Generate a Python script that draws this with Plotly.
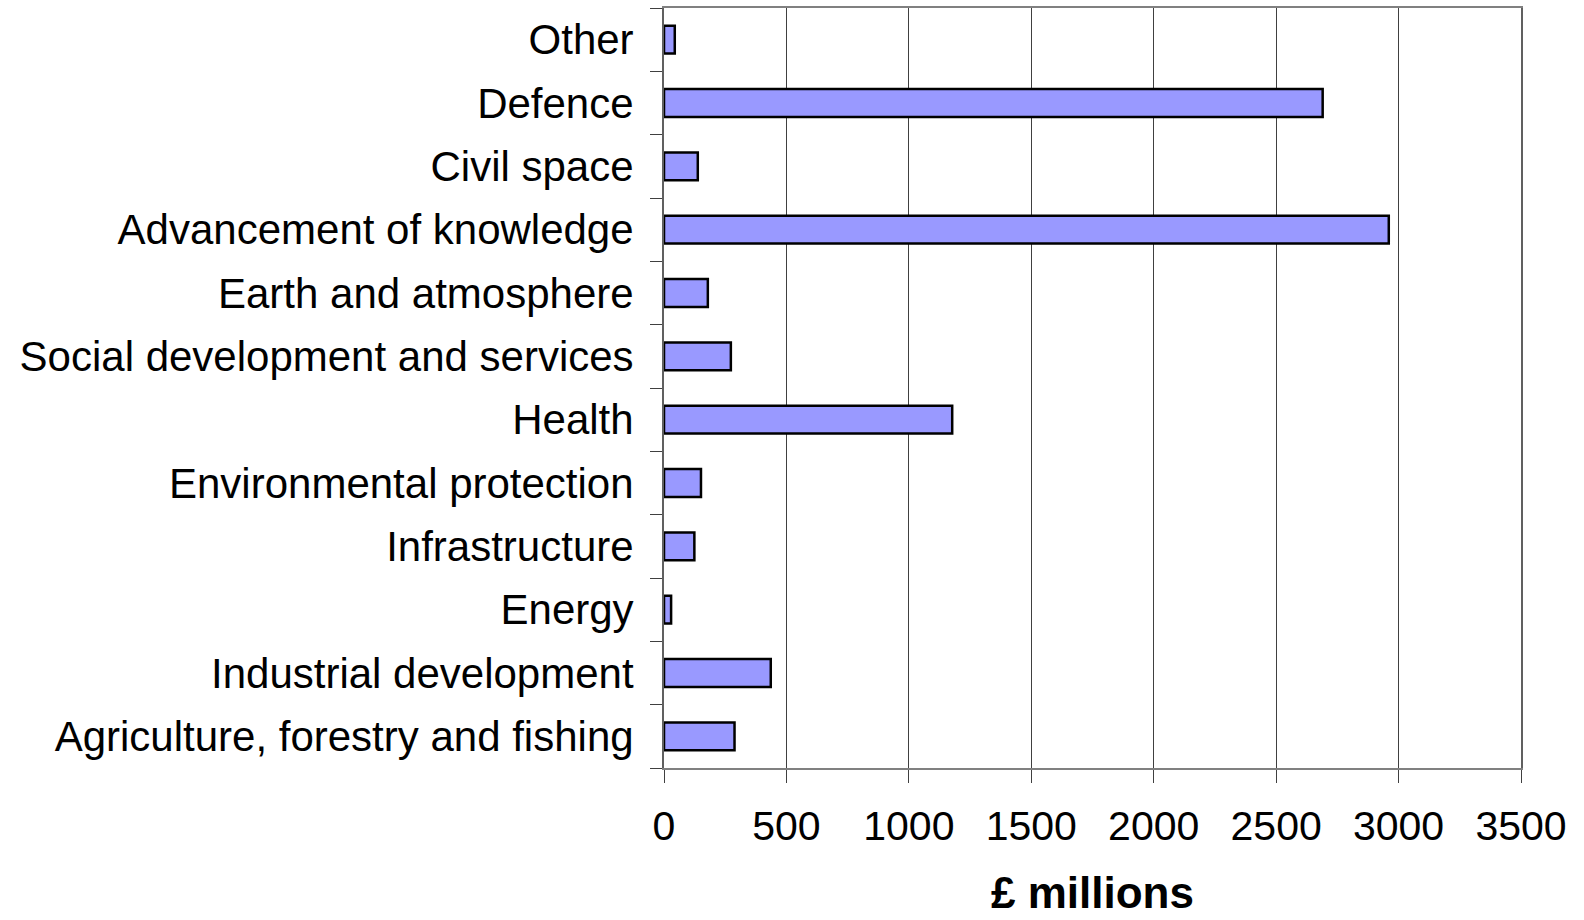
import plotly.graph_objects as go

categories = [
    "Agriculture, forestry and fishing",
    "Industrial development",
    "Energy",
    "Infrastructure",
    "Environmental protection",
    "Health",
    "Social development and services",
    "Earth and atmosphere",
    "Advancement of knowledge",
    "Civil space",
    "Defence",
    "Other",
]
values = [288, 436, 29, 124, 151, 1177, 273, 179, 2960, 138, 2690, 44]
x_ticks = [0, 500, 1000, 1500, 2000, 2500, 3000, 3500]
x_title = "£ millions"

fig = go.Figure()
fig.add_trace(go.Bar(
    y=categories, x=values, orientation="h",
    marker=dict(color="#9999FF", line=dict(color="black", width=2.5)),
))

font_family = "Liberation Sans, Arial, sans-serif"
fig.update_layout(
    width=1584, height=920,
    margin=dict(l=664, r=63, t=8, b=152),
    plot_bgcolor="white", paper_bgcolor="white",
    bargap=0.56,
    showlegend=False,
    font=dict(family=font_family, size=42, color="black"),
)
fig.update_xaxes(
    range=[0, 3500], tickvals=x_ticks, ticktext=[str(t) for t in x_ticks],
    showgrid=True, gridcolor="#404040", gridwidth=1,
    showline=True, linecolor="#808080", linewidth=2, mirror=True,
    ticks="outside", ticklen=13, tickcolor="#404040", tickwidth=1,
    ticklabelstandoff=8,
    tickfont=dict(size=41),
    zeroline=False, fixedrange=True, automargin=False,
)
fig.update_yaxes(
    type="category", categoryorder="array", categoryarray=categories,
    tickson="boundaries", ticks="outside", ticklen=12, tickcolor="#404040", tickwidth=1,
    showline=True, linecolor="#606060", linewidth=2, mirror=True,
    showgrid=False, ticklabelstandoff=20,
    tickfont=dict(size=42), fixedrange=True, automargin=False,
)
fig.add_annotation(
    text="<b>" + x_title + "</b>", xref="x domain", yref="y domain",
    x=0.5, y=0, yshift=-124, xanchor="center", yanchor="middle",
    showarrow=False, font=dict(size=44, family=font_family, color="black"),
)
fig.write_html("out.html")
